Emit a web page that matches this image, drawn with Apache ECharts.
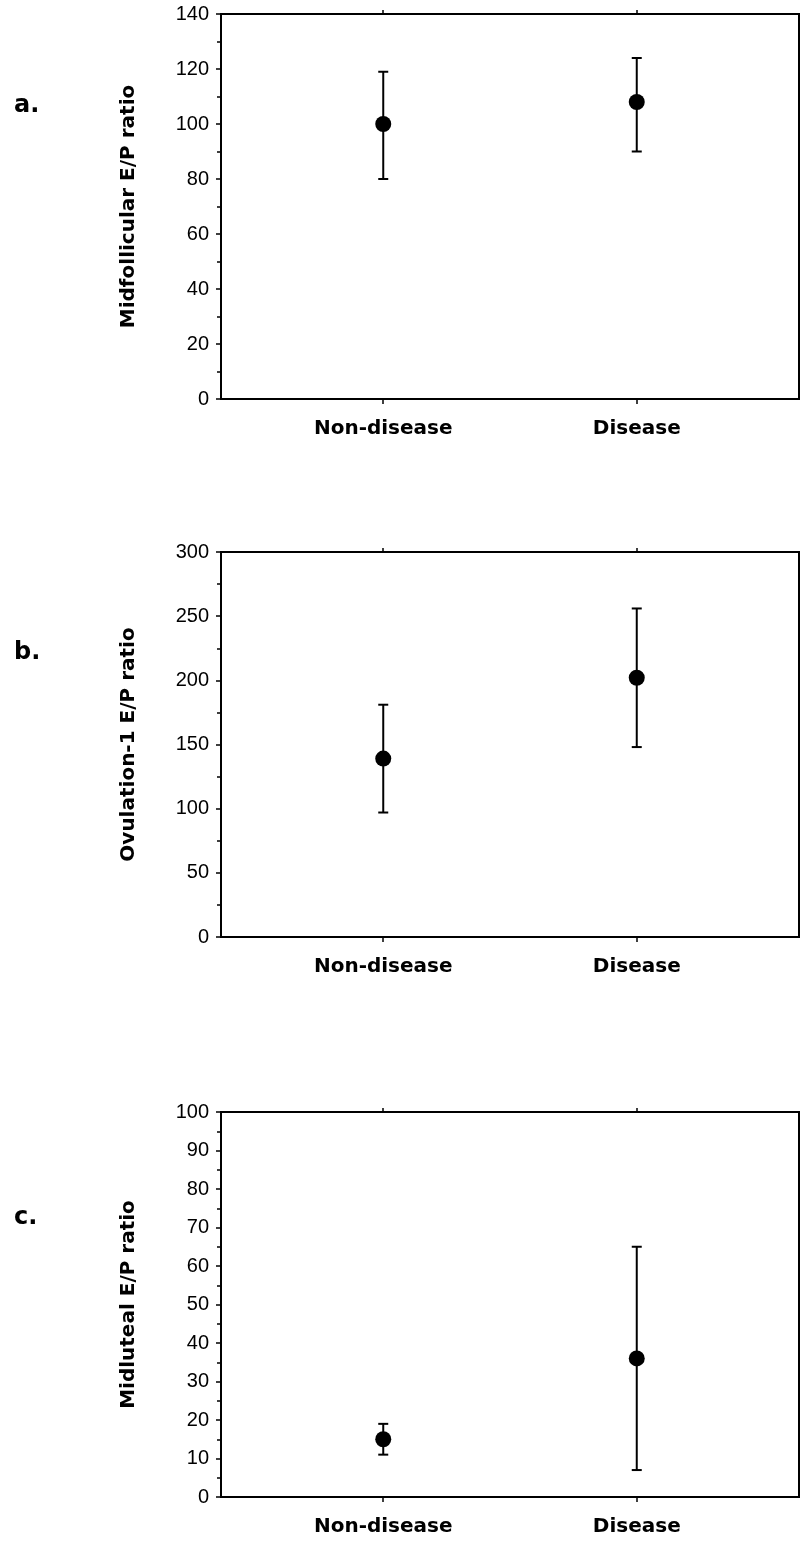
<!DOCTYPE html>
<html lang="en">

<head>
  <meta charset="UTF-8">
  <title>E/P ratio</title>
  <style>
    html, body { margin: 0; padding: 0; background: #fff; }
    .chart { width: 802px; height: 1541px; }
  </style>
</head>

<body>
  <div class="chart"></div>
  <script src="https://cdn.jsdelivr.net/npm/echarts@6/dist/echarts.min.js"></script>
  <script>
    // groups on the x axis
    const categories = ['Non-disease', 'Disease'];

    // a. midfollicular
    const midfollicularMean = [100, 108];
    const midfollicularLow = [80, 90];
    const midfollicularHigh = [119, 124];

    // b. ovulation-1
    const ovulationMean = [139, 202];
    const ovulationLow = [97, 148];
    const ovulationHigh = [181, 256];

    // c. midluteal
    const midlutealMean = [15, 36];
    const midlutealLow = [11, 7];
    const midlutealHigh = [19, 65];

    const panelLabels = ['a.', 'b.', 'c.'];
    const axisNames = ['Midfollicular E/P ratio', 'Ovulation-1 E/P ratio', 'Midluteal E/P ratio'];
    const yMax = [140, 300, 100];
    const yStep = [20, 50, 10];

    const panels = [
      { mean: midfollicularMean, low: midfollicularLow, high: midfollicularHigh },
      { mean: ovulationMean, low: ovulationLow, high: ovulationHigh },
      { mean: midlutealMean, low: midlutealLow, high: midlutealHigh }
    ];

    const gridTops = [14, 552, 1112];
    const labelTops = [89, 636, 1201];
    const catIdx = categories.map((c, i) => i);

    let chart = echarts.init(document.querySelector('.chart'));

    let grids = [], xAxes = [], yAxes = [], series = [], titles = [];

    panels.forEach((p, k) => {
      grids.push({
        left: 221, right: 3, top: gridTops[k], height: 385,
        show: true, borderColor: '#000', borderWidth: 2, backgroundColor: '#fff'
      });

      // bottom axis with group names
      xAxes.push({
        type: 'value', gridIndex: k, min: -0.64, max: 1.64,
        splitLine: { show: false },
        axisLine: { onZero: false, lineStyle: { color: '#000', width: 2 } },
        axisTick: { customValues: catIdx, length: 5, lineStyle: { color: '#000', width: 1.5 } },
        axisLabel: {
          customValues: catIdx, margin: 20,
          formatter: v => categories[Math.round(v)] || '',
          color: '#000', fontFamily: 'DejaVu Sans', fontWeight: 'bold', fontSize: 20
        }
      });
      // top axis, only the small ticks
      xAxes.push({
        type: 'value', gridIndex: k, position: 'top', min: -0.64, max: 1.64,
        splitLine: { show: false },
        axisLine: { onZero: false, lineStyle: { color: '#000', width: 2 } },
        axisTick: { customValues: catIdx, length: 4, lineStyle: { color: '#000', width: 1.5 } },
        axisLabel: { show: false }
      });

      yAxes.push({
        type: 'value', gridIndex: k, min: 0, max: yMax[k], interval: yStep[k],
        name: axisNames[k], nameLocation: 'middle', nameGap: 82,
        nameTextStyle: { color: '#000', fontFamily: 'DejaVu Sans', fontWeight: 'bold', fontSize: 20 },
        splitLine: { show: false },
        axisLine: { onZero: false, lineStyle: { color: '#000', width: 2 } },
        axisTick: { length: 5, lineStyle: { color: '#000', width: 1.5 } },
        minorTick: { show: true, splitNumber: 2, length: 4, lineStyle: { color: '#000', width: 1.5 } },
        axisLabel: { margin: 12, color: '#000', fontFamily: 'Liberation Sans', fontSize: 20 }
      });

      series.push({
        type: 'custom',
        xAxisIndex: k * 2, yAxisIndex: k,
        encode: { x: 0, y: [1, 2] },
        data: catIdx.map(i => [i, p.low[i], p.high[i]]),
        renderItem: function (params, api) {
          let top = api.coord([api.value(0), api.value(2)]);
          let bot = api.coord([api.value(0), api.value(1)]);
          let hw = 5;
          let st = { stroke: '#000', lineWidth: 2 };
          return {
            type: 'group',
            children: [
              { type: 'line', shape: { x1: top[0], y1: top[1], x2: bot[0], y2: bot[1] }, style: st },
              { type: 'line', shape: { x1: top[0] - hw, y1: top[1], x2: top[0] + hw, y2: top[1] }, style: st },
              { type: 'line', shape: { x1: bot[0] - hw, y1: bot[1], x2: bot[0] + hw, y2: bot[1] }, style: st }
            ]
          };
        },
        z: 2
      });

      series.push({
        type: 'scatter',
        xAxisIndex: k * 2, yAxisIndex: k,
        symbol: 'circle', symbolSize: 16,
        itemStyle: { color: '#000', opacity: 1 },
        data: p.mean.map((v, i) => [i, v]),
        z: 3
      });

      titles.push({
        text: panelLabels[k], left: 9, top: labelTops[k],
        textStyle: { color: '#000', fontFamily: 'DejaVu Sans', fontWeight: 'bold', fontSize: 24 }
      });
    });

    chart.setOption({
      animation: false,
      backgroundColor: '#fff',
      title: titles,
      grid: grids,
      xAxis: xAxes,
      yAxis: yAxes,
      series: series
    });
  </script>
</body>

</html>
